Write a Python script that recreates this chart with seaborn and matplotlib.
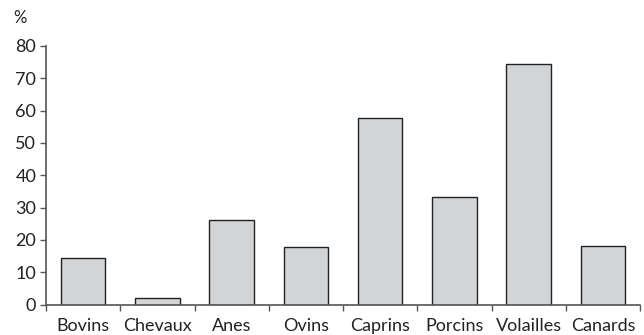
import matplotlib
matplotlib.use("Agg")
import matplotlib.pyplot as plt
from matplotlib.ticker import FixedLocator
import numpy as np
import pandas as pd
import seaborn as sns

categories = ["Bovins", "Chevaux", "Anes", "Ovins", "Caprins", "Porcins", "Volailles", "Canards"]
values = [14.4, 2.0, 26.1, 17.7, 57.8, 33.4, 74.4, 18.1]
yticks = [0, 10, 20, 30, 40, 50, 60, 70, 80]

sns.set_style("ticks")
plt.rcParams["font.family"] = ["Lato", "DejaVu Sans"]

df = pd.DataFrame({"espece": categories, "pct": values})

fig = plt.figure(figsize=(6.44, 3.35), dpi=100)
ax = fig.add_axes([46 / 644, 1 - 304.5 / 335, 594 / 644, (304.5 - 46) / 335])

sns.barplot(data=df, x="espece", y="pct", ax=ax, color="#d3d4d6",
            edgecolor="#222222", linewidth=1.0, width=0.6, saturation=1)

ax.set_xlim(-0.5, len(categories) - 0.5)
ax.set_ylim(0, 80)
ax.set_yticks(yticks)
ax.set_xlabel("")
ax.set_ylabel("")

# ticks on category boundaries, labels centred
ax.xaxis.set_minor_locator(FixedLocator(np.arange(-0.5, len(categories), 1.0)))
ax.tick_params(axis="x", which="major", length=0, labelsize=13, pad=10, colors="#222222")
ax.tick_params(axis="x", which="minor", length=4, width=1, color="#555555", direction="out")
ax.tick_params(axis="y", length=4, width=1, color="#555555", labelsize=13, pad=3, labelcolor="#222222")

sns.despine(ax=ax)
for s in ["left", "bottom"]:
    ax.spines[s].set_color("#555555")
    ax.spines[s].set_linewidth(1.2)

fig.text(20 / 644, 1 - 18 / 335, "%", fontsize=12, color="#222222", ha="center", va="center")

fig.savefig("out.png", dpi=100)
